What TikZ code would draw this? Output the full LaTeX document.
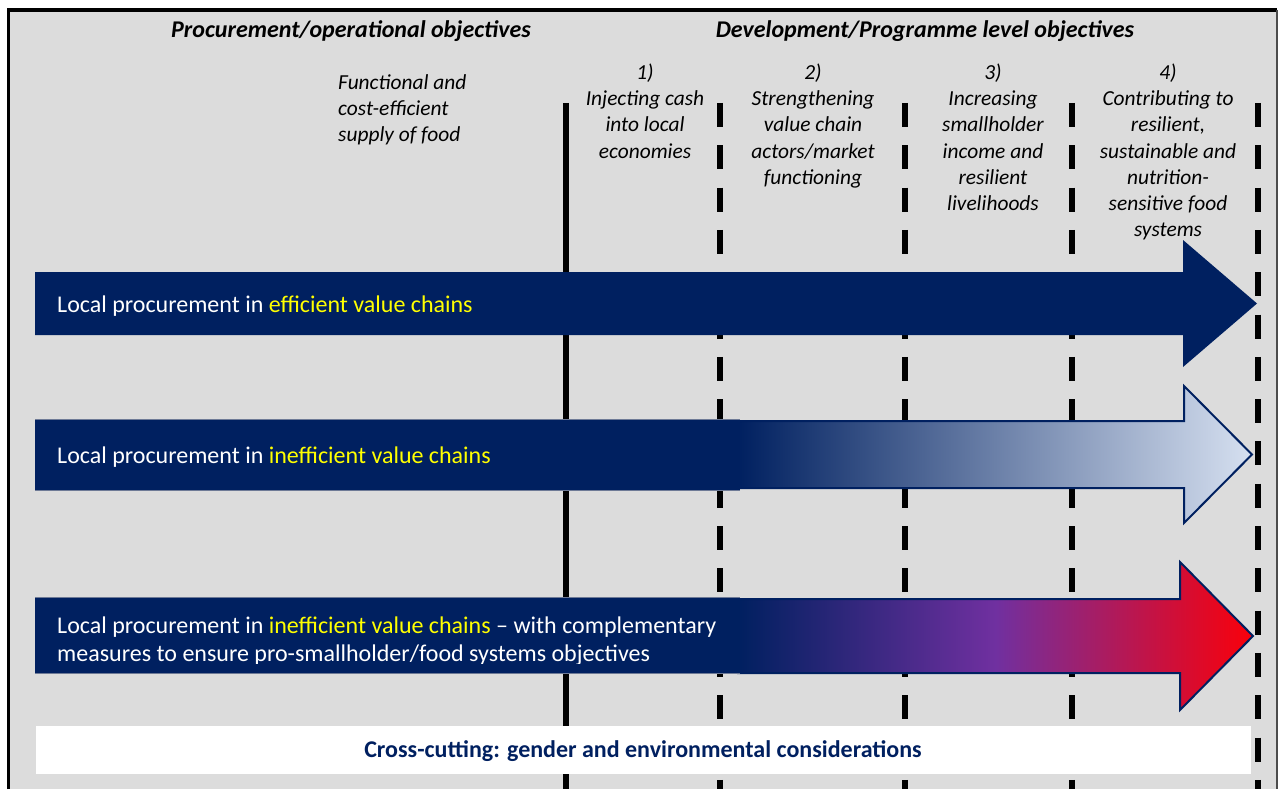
\documentclass[tikz,border=0pt]{standalone}
\usepackage{fontspec}
\setmainfont{Carlito}
\definecolor{navy}{RGB}{0,32,96}
\definecolor{bggray}{RGB}{220,220,220}
\definecolor{hlyellow}{RGB}{255,255,0}
\definecolor{lightblue}{RGB}{214,224,240}
\definecolor{mypurple}{RGB}{112,48,160}
\definecolor{myred}{RGB}{250,0,10}
\definecolor{boxedge}{RGB}{110,122,150}
\newcommand\hlt[1]{\textcolor{hlyellow}{#1}}
\newcommand\coltext[3]{\foreach \t [count=\i] in {#3} {\node[coltxt] (#1-\i) at (#2, 79.5+26.2*\i-26.2) {\t};}}
\begin{document}
\begin{tikzpicture}[x=1pt,y=-1pt,
  hdr/.style={font=\fontsize{24}{29}\selectfont\bfseries\itshape, anchor=base, inner sep=0pt},
  coltxt/.style={font=\fontsize{21.4}{26}\selectfont\itshape, anchor=base, inner sep=0pt},
  boxtxt/.style={font=\fontsize{24}{29}\selectfont, text=white, anchor=base west, inner sep=0pt},
  solidline/.style={line width=5.5pt, black},
  dashline/.style={line width=6pt, black, dash pattern=on 24pt off 18.3pt},
  tbox/.style={fill=navy, anchor=north west, inner sep=0pt},
  edgeline/.style={draw=boxedge, line width=0.8pt},
  arrowedge/.style={draw=navy, line width=2pt, line join=miter}
]
\useasboundingbox (0,0) rectangle (1281,789);
\fill[white] (0,0) rectangle (1281,789);
% background frame
\fill[bggray] (8,10) rectangle (1277,789);
\draw[line width=3.2pt, black] (8.3,789) -- (8.3,10) -- (1277,10);
\draw[line width=1.4pt, black!70] (1277,10) -- (1277,789);

% headers
\node[hdr] (h1) at (351,37.5) {Procurement/operational objectives};
\node[hdr] (h2) at (925,37.5) {Development/Programme level objectives};

% column texts
\foreach \t [count=\i] in {Functional and,cost-efficient,supply of food}
  {\node[coltxt, anchor=base west] (c0-\i) at (338, 89.5+26.2*\i-26.2) {\t};}
\coltext{c1}{645}{{1)},{Injecting cash},{into local},{economies}}
\coltext{c2}{813}{{2)},{Strengthening},{value chain},{actors/market},{functioning}}
\coltext{c3}{993}{{3)},{Increasing},{smallholder},{income and},{resilient},{livelihoods}}
\coltext{c4}{1168}{{4)},{Contributing to},{resilient,},{sustainable and},{nutrition-},{sensitive food},{systems}}

% vertical separators
\coordinate (s0t) at (566,103); \coordinate (s0b) at (566,789);
\coordinate (s1t) at (719.7,103); \coordinate (s1b) at (719.7,789);
\coordinate (s2t) at (904.7,103); \coordinate (s2b) at (904.7,789);
\coordinate (s3t) at (1072.3,103); \coordinate (s3b) at (1072.3,789);
\coordinate (s4t) at (1257.5,103); \coordinate (s4b) at (1257.5,789);
\draw[solidline] (s0t) -- (s0b);
\draw[dashline] (s1t) -- (s1b);
\draw[dashline] (s2t) -- (s2b);
\draw[dashline] (s3t) -- (s3b);
\draw[dashline] (s4t) -- (s4b);

% arrow 1
\fill[navy] (35,272) -- (1183,272) -- (1183,240) -- (1257,303.5) -- (1183,367) -- (1183,335) -- (35,335) -- cycle;
\node[boxtxt] (t1) at (57,312) {Local procurement in \hlt{efficient value chains}};

% arrow 2
\path[arrowedge, left color=navy, right color=lightblue]
  (738,421) -- (1184,421) -- (1184,386) -- (1252,454.5) -- (1184,523) -- (1184,488) -- (738,488) -- cycle;
\node[tbox, minimum width=705pt, minimum height=71pt] (b2) at (35,419) {};
\draw[edgeline] (b2.north west) -- (b2.north east);
\draw[edgeline] (b2.south west) -- (b2.south east);
\node[boxtxt] (t2) at (57,463) {Local procurement in \hlt{inefficient value chains}};

% arrow 3
\path[arrowedge, left color=navy, right color=myred, middle color=mypurple]
  (738,599) -- (1180,599) -- (1180,562) -- (1253,636) -- (1180,710) -- (1180,673) -- (738,673) -- cycle;
\node[tbox, minimum width=705pt, minimum height=76pt] (b3) at (35,597) {};
\draw[edgeline] (b3.north west) -- (b3.north east);
\draw[edgeline] (b3.south west) -- (b3.south east);
\begin{scope}
  \clip (35,597) rectangle (740,663);
  \node[boxtxt] (t3a) at (57,633) {Local procurement in \hlt{inefficient value chains} -- with complementary};
  \node[boxtxt] (t3b) at (57,661) {measures to ensure pro-smallholder/food systems objectives};
\end{scope}

% bottom box
\node[fill=white, inner sep=0pt, minimum width=1215pt, minimum height=48pt, anchor=north west] (cc) at (36,726) {};
\node[font=\fontsize{24}{29}\selectfont\bfseries, text=navy, anchor=base, inner sep=0pt] (cct) at (643,757.5) {Cross-cutting: gender and environmental considerations};
\end{tikzpicture}
\end{document}
